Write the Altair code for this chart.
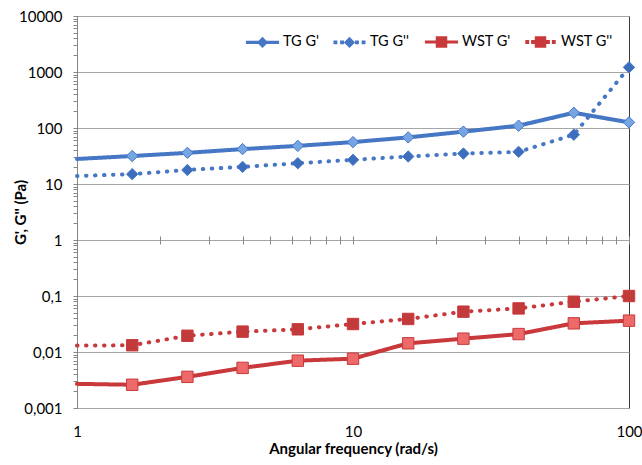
import altair as alt
import pandas as pd

# ---- data ----
freq = [1, 1.585, 2.512, 3.981, 6.31, 10, 15.85, 25.12, 39.81, 63.1, 100]
tg_g1 = [28, 31.6, 36, 42, 48, 56, 68, 86, 110, 187, 126]
tg_g2 = [13.9, 15, 17.8, 20.2, 23.5, 27, 31, 35, 37.5, 76, 1210]
wst_g1 = [0.0027, 0.0026, 0.0036, 0.0052, 0.0070, 0.0076, 0.0143, 0.0173, 0.0209, 0.0325, 0.0363]
wst_g2 = [0.0130, 0.0132, 0.0195, 0.0231, 0.0254, 0.0316, 0.0389, 0.0525, 0.060, 0.079, 0.100]
series_names = ["TG G'", "TG G''", "WST G'", "WST G''"]

decades = [0.001, 0.01, 0.1, 1, 10, 100, 1000, 10000]
y_ticks = sorted(set(decades + [k * 10.0 ** e for e in range(-3, 4) for k in range(2, 10)]))
x_labels = [1, 10, 100]
x_minor = [1, 2, 3, 4, 5, 6, 7, 8, 9, 10, 20, 30, 40, 50, 60, 70, 80, 90, 100]

rows = []
for name, vals in zip(series_names, [tg_g1, tg_g2, wst_g1, wst_g2]):
    for f, v in zip(freq, vals):
        rows.append({"freq": f, "value": v, "series": name})
df = pd.DataFrame(rows)

# ---- styles ----
BLUE = "#4677c4"
RED = "#c9393b"
stroke_scale = alt.Scale(domain=series_names, range=[BLUE, BLUE, RED, RED])
fill_scale = alt.Scale(domain=series_names, range=["#76a5e4", "#3d6ebd", "#ee6a6a", "#c23a3a"])
dash_scale = alt.Scale(domain=series_names, range=[[1, 0], [0.5, 8.5], [1, 0], [0.5, 8.5]])
shape_scale = alt.Scale(domain=series_names, range=["diamond", "diamond", "square", "square"])

def dots(xs, h=0.02):
    return "".join(f"M{x-h},{-h}L{x+h},{-h}L{x+h},{h}L{x-h},{h}Z" for x in xs)

dia = "M-0.2,0L0,-0.2L0.2,0L0,0.2ZM0,-0.2L0,0.2M-0.2,0L0.2,0"
sq = "M-0.25,-0.25L0.25,-0.25L0.25,0.25L-0.25,0.25ZM-0.1,-0.1L0.1,-0.1L0.1,0.1L-0.1,0.1ZM0,-0.25L0,0.25M-0.25,0L0.25,0"
legend_paths = [
    "M-1,0L1,0" + dia,
    dots([-0.85, -0.45, 0.45, 0.85]) + dia,
    "M-1,0L1,0" + sq,
    dots([-0.8, -0.45, 0.45, 0.8]) + sq,
]
legend_shape_scale = alt.Scale(domain=series_names, range=legend_paths)

xscale = alt.Scale(type="log", domain=[1, 100], nice=False)
yscale = alt.Scale(type="log", domain=[0.001, 10000], nice=False)

dec_test = "indexof([0.001,0.01,0.1,1,10,100,1000,10000], datum.value) >= 0"

yaxis = alt.Axis(
    values=y_ticks,
    title="G', G'' (Pa)",
    labelExpr=f"({dec_test}) ? replace(toString(datum.value), '.', ',') : ''",
    labelOverlap=False,
    labelFont="Lato", labelFontSize=15, labelColor="black",
    labelPadding=11, tickSize=4, tickColor="#868686", domainColor="#868686",
    grid=True, gridColor="#a6a6a6",
    gridOpacity={"condition": {"test": dec_test, "value": 1}, "value": 0},
    titleFont="Lato", titleFontSize=15, titleFontWeight="bold", titleColor="black",
    titleX=-57, titleY=196, titleAngle=270, titleBaseline="middle", titleAlign="center",
)

xaxis_main = alt.Axis(
    values=x_labels, title="Angular frequency (rad/s)", format="d",
    labelFont="Lato", labelFontSize=15, labelColor="black", labelFlush=False,
    labelPadding=16, ticks=False, domain=False, grid=False,
    titleFont="Lato", titleFontSize=15, titleFontWeight="bold", titleColor="black",
    titleY=40, titleBaseline="middle",
)

xaxis_minor = alt.Axis(
    values=x_minor, title=None, labels=False, domain=False, grid=False,
    orient="bottom", offset=-172, tickSize=8, tickColor="#868686",
)

y_enc = alt.Y("value:Q", scale=yscale, axis=yaxis)

lines = alt.Chart(df).mark_line(strokeWidth=4, strokeCap="round", strokeJoin="round").encode(
    x=alt.X("freq:Q", scale=xscale, axis=xaxis_main),
    y=y_enc,
    stroke=alt.Stroke("series:N", scale=stroke_scale, legend=None),
    strokeDash=alt.StrokeDash("series:N", scale=dash_scale, legend=None),
    detail="series:N",
)

points = alt.Chart(df).transform_filter("datum.freq > 1.01").mark_point(
    filled=True, opacity=1, strokeWidth=1, size=130
).encode(
    x=alt.X("freq:Q", scale=xscale, axis=xaxis_minor),
    y=y_enc,
    shape=alt.Shape("series:N", scale=shape_scale, legend=None),
    fill=alt.Fill("series:N", scale=fill_scale, legend=None),
    stroke=alt.Stroke("series:N", scale=stroke_scale, legend=None),
)

leg = alt.Legend(
    orient="none", legendX=167, legendY=7, direction="horizontal", title=None,
    symbolSize=1100, symbolStrokeWidth=3.2, symbolOpacity=1,
    labelFont="Lato", labelFontSize=14.5, labelColor="black",
    columnPadding=9, labelOffset=2, padding=0,
)

helper = alt.Chart(df).mark_point(filled=False, opacity=0).encode(
    x=alt.X("freq:Q", scale=xscale, axis=None),
    y=y_enc,
    color=alt.Color("series:N", scale=stroke_scale, legend=leg),
    shape=alt.Shape("series:N", scale=legend_shape_scale, legend=leg),
)

chart = alt.layer(lines, points, helper).resolve_scale(
    shape="independent", color="independent"
).resolve_axis(x="independent").properties(
    width=552, height=392,
    padding={"left": 77, "top": 16, "right": 13, "bottom": 57},
    autosize="none", background="white",
).configure_view(stroke="#3c3c3c", strokeWidth=1)

chart.save("out.html", embed_options={"renderer": "svg", "actions": False})
